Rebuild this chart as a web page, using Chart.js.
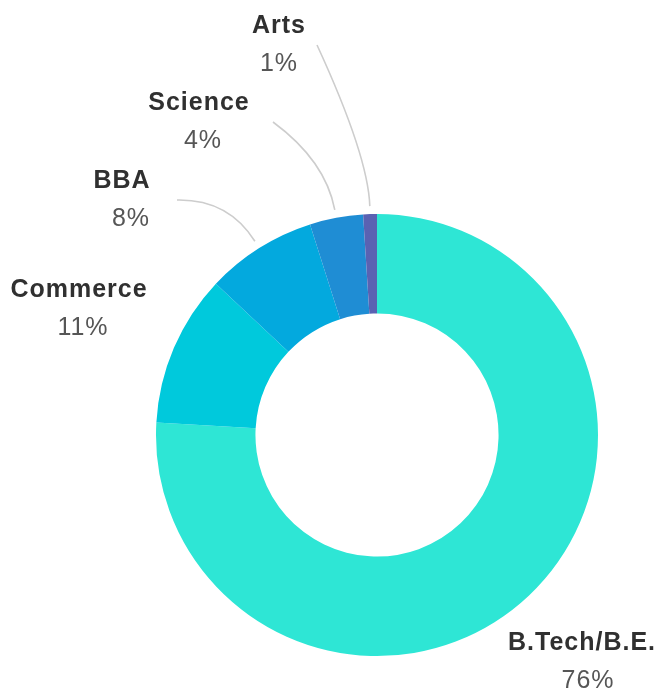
<!DOCTYPE html>
<html>
<head>
<meta charset="utf-8">
<script src="https://cdn.jsdelivr.net/npm/chart.js@4/dist/chart.umd.min.js"></script>
<style>
    html, body { margin: 0; padding: 0; background: #fff; }
    #wrap { width: 663px; height: 691px; position: relative; }
</style>
</head>
<body>
<div id="wrap"><canvas id="donut"></canvas></div>
<script>
// Course share, clockwise from 12 o'clock
const courses = ['B.Tech/B.E.', 'Commerce', 'BBA', 'Science', 'Arts'];
const shares = [75.9, 11.1, 8.1, 3.9, 1.0];
const sliceColors = ['#2ee6d5', '#00c9dc', '#03a9de', '#1f8dd4', '#5a62b2'];

// label layout, offsets from the doughnut centre (px): name x, name baseline, percent x
const labelAt = [
    [205, 215, 211],
    [-298, -138, -294],
    [-255, -247, -246],
    [-178, -325, -174],
    [-98, -402, -98],
];
// where a leader line leaves the label (null = no line)
const leaderFrom = [null, null, [-200, -235], [-104, -313], [-60, -390]];

const outsideLabels = {
    id: 'outsideLabels',
    afterDraw(chart) {
        const ctx = chart.ctx;
        const meta = chart.getDatasetMeta(0);
        const total = shares.reduce((a, b) => a + b, 0);

        meta.data.forEach((arc, i) => {
            const p = arc.getProps(['x', 'y', 'startAngle', 'endAngle', 'outerRadius'], true);
            const cx = p.x, cy = p.y;
            const mid = (p.startAngle + p.endAngle) / 2;

            if (leaderFrom[i]) {
                const r1 = p.outerRadius + 8;
                const r2 = r1 + 50;
                ctx.save();
                ctx.strokeStyle = '#cdcdcd';
                ctx.lineWidth = 1.6;
                ctx.beginPath();
                ctx.moveTo(cx + leaderFrom[i][0], cy + leaderFrom[i][1]);
                ctx.quadraticCurveTo(
                    cx + Math.cos(mid) * r2, cy + Math.sin(mid) * r2,
                    cx + Math.cos(mid) * r1, cy + Math.sin(mid) * r1
                );
                ctx.stroke();
                ctx.restore();
            }

            const [nx, ny, px] = labelAt[i];
            ctx.save();
            ctx.textAlign = 'center';
            ctx.textBaseline = 'alphabetic';
            ctx.letterSpacing = '1px';
            ctx.fillStyle = '#303030';
            ctx.font = 'bold 25px "Liberation Sans", Arial, sans-serif';
            ctx.fillText(courses[i], cx + nx, cy + ny);
            ctx.fillStyle = '#565656';
            ctx.font = '25px "Liberation Sans", Arial, sans-serif';
            ctx.fillText(Math.round(shares[i] / total * 100) + '%', cx + px, cy + ny + 38);
            ctx.restore();
        });
    },
};

new Chart(document.getElementById('donut'), {
    type: 'doughnut',
    data: {
        labels: courses,
        datasets: [
            {
                data: shares,
                backgroundColor: sliceColors,
                borderWidth: 0,
            },
        ],
    },
    options: {
        responsive: true,
        maintainAspectRatio: false,
        animation: false,
        cutout: '55%',
        layout: {
            padding: { left: 156, right: 65, top: 214, bottom: 35 },
        },
        plugins: {
            legend: { display: false },
            tooltip: { enabled: false },
        },
    },
    plugins: [outsideLabels],
});
</script>
</body>
</html>
